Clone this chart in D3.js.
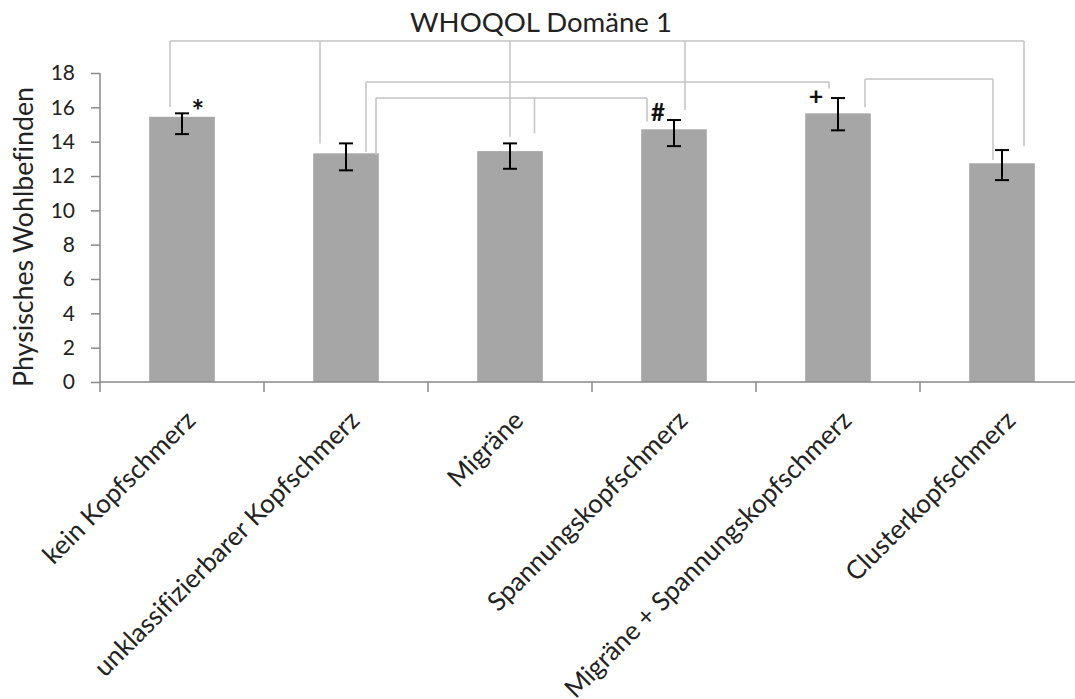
<!DOCTYPE html>
<html>
<head>
<meta charset="utf-8">
<script src="https://cdn.jsdelivr.net/npm/d3@7"></script>
<style>
  html, body { margin: 0; padding: 0; background: #fff; }
  svg { display: block; font-family: Lato, "Open Sans", sans-serif; font-variant-ligatures: none; }
</style>
</head>
<body>
<svg id="chart" width="1075" height="699"></svg>
<script>
// WHOQOL domain 1 (physical well-being) by headache group
const categories = [
  "kein Kopfschmerz",
  "unklassifizierbarer Kopfschmerz",
  "Migräne",
  "Spannungskopfschmerz",
  "Migräne + Spannungskopfschmerz",
  "Clusterkopfschmerz"
];
const means   = [15.45, 13.32, 13.45, 14.72, 15.65, 12.74];
const errLow  = [14.44, 12.33, 12.42, 13.74, 14.66, 11.76];
const errHigh = [15.65, 13.90, 13.90, 15.26, 16.54, 13.51];
const markers = ["*", "", "", "#", "+", ""];
const yTicks  = [0, 2, 4, 6, 8, 10, 12, 14, 16, 18];
const titleText  = "WHOQOL Domäne 1";
const yAxisTitle = "Physisches Wohlbefinden";

const svg = d3.select("#chart");

const x = d3.scaleBand()
  .domain(categories)
  .range([100, 1084])
  .paddingInner(0.6)
  .paddingOuter(0.3);

const y = d3.scaleLinear().domain([0, 18]).range([382, 73]);

const axisColor = "#8a8a8a";
const textColor = "#222";

// shrink/grow a text node so that it spans the given length
function fit(sel, target) {
  const node = sel.node();
  const fs = parseFloat(sel.attr("font-size"));
  const len = node.getComputedTextLength();
  sel.attr("font-size", (fs * target / len).toFixed(2));
}

// bars
svg.append("g").selectAll("rect")
  .data(categories)
  .join("rect")
  .attr("x", d => x(d))
  .attr("width", x.bandwidth())
  .attr("y", (d, i) => y(means[i]))
  .attr("height", (d, i) => y(0) - y(means[i]))
  .attr("fill", "#a6a6a6");

// error bars
const eb = svg.append("g").attr("stroke", "#000").attr("stroke-width", 2);
categories.forEach((c, i) => {
  const cx = x(c) + x.bandwidth() / 2;
  eb.append("line").attr("x1", cx).attr("x2", cx).attr("y1", y(errLow[i])).attr("y2", y(errHigh[i]));
  eb.append("line").attr("x1", cx - 7).attr("x2", cx + 7).attr("y1", y(errLow[i])).attr("y2", y(errLow[i]));
  eb.append("line").attr("x1", cx - 7).attr("x2", cx + 7).attr("y1", y(errHigh[i])).attr("y2", y(errHigh[i]));
});

// significance brackets: a level plus legs [category, offset from bar centre, lower end]
const brackets = [
  { level: 19.86, legs: [[0, -12, 16.02], [1, -26, 13.9], [2, 0, 14.29], [3, 11, 15.84], [5, 22, 13.74]] },
  { level: 17.47, legs: [[1, 20, 13.41], [4, -9, 17.1]] },
  { level: 16.54, legs: [[1, 30, 13.22], [2, 24.5, 14.48], [3, -27, 15.16]] },
  { level: 17.65, legs: [[4, 27, 16.0], [5, -9, 12.93]] }
];
const bg = svg.append("g").attr("stroke", "#c3c3c3").attr("stroke-width", 1.5).attr("fill", "none");
brackets.forEach(b => {
  const xs = b.legs.map(l => x(categories[l[0]]) + x.bandwidth() / 2 + l[1]);
  bg.append("line")
    .attr("x1", d3.min(xs)).attr("x2", d3.max(xs))
    .attr("y1", y(b.level)).attr("y2", y(b.level));
  b.legs.forEach((l, k) => {
    bg.append("line")
      .attr("x1", xs[k]).attr("x2", xs[k])
      .attr("y1", y(b.level)).attr("y2", y(l[2]));
  });
});

// significance markers: [offset from bar centre, height, font size, dy]
const markerPlace = {
  "*": [16, 16.25, 30, "0.62em"],
  "#": [-16, 15.68, 24, "0.36em"],
  "+": [-22, 16.66, 25, "0.36em"]
};
categories.forEach((c, i) => {
  const m = markers[i];
  if (!m) return;
  const p = markerPlace[m];
  svg.append("text")
    .attr("x", x(c) + x.bandwidth() / 2 + p[0])
    .attr("y", y(p[1]))
    .attr("dy", p[3])
    .attr("text-anchor", "middle")
    .attr("font-size", p[2])
    .attr("font-weight", 700)
    .attr("fill", "#111")
    .text(m);
});

// y axis
const yAxis = svg.append("g")
  .attr("transform", "translate(100,0)")
  .call(d3.axisLeft(y).tickValues(yTicks).tickSize(9).tickPadding(16).tickFormat(d3.format("d")));
yAxis.select(".domain").attr("stroke", axisColor).attr("stroke-width", 1.5).attr("d", `M0,${y(18)}V${y(0)}`);
yAxis.selectAll(".tick line").attr("stroke", axisColor).attr("stroke-width", 1.5);
yAxis.selectAll(".tick text").attr("fill", textColor).attr("font-size", 21)
  .attr("font-family", "Lato, sans-serif");

// x axis: baseline plus ticks at the category boundaries
const xa = svg.append("g").attr("stroke", axisColor).attr("stroke-width", 1.5);
const [r0, r1] = x.range();
xa.append("line").attr("x1", r0).attr("x2", r1).attr("y1", y(0)).attr("y2", y(0));
d3.range(categories.length + 1).forEach(k => {
  const bx = r0 + k * x.step();
  xa.append("line").attr("x1", bx).attr("x2", bx).attr("y1", y(0)).attr("y2", y(0) + 10);
});

// rotated category labels
const labels = svg.append("g").selectAll("text")
  .data(categories)
  .join("text")
  .attr("transform", d => `translate(${x(d) + x.bandwidth() / 2 + 15},422) rotate(-45)`)
  .attr("text-anchor", "end")
  .attr("fill", textColor)
  .attr("font-size", 28)
  .text(d => d);
// size all labels from the longest one
{
  const longest = labels.filter(d => d === categories[1]);
  fit(longest, 362);
  labels.attr("font-size", longest.attr("font-size"));
}

// title
const title = svg.append("text")
  .attr("x", 541).attr("y", 32)
  .attr("text-anchor", "middle")
  .attr("fill", textColor)
  .attr("font-size", 28)
  .text(titleText);
fit(title, 262);

// y axis title
const yt = svg.append("text")
  .attr("transform", "translate(33,237) rotate(-90)")
  .attr("text-anchor", "middle")
  .attr("fill", textColor)
  .attr("font-size", 28)
  .text(yAxisTitle);
fit(yt, 300);
</script>
</body>
</html>
